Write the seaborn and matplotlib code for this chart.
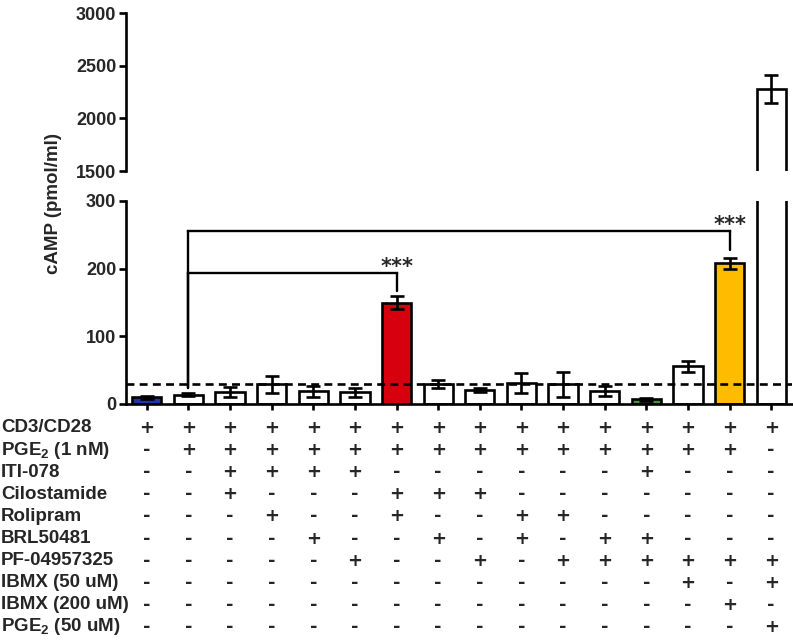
import matplotlib
matplotlib.use("Agg")
import matplotlib.pyplot as plt
import matplotlib.transforms as mtransforms
import seaborn as sns
import pandas as pd
import numpy as np

# ---------------- data ----------------
groups = [f"G{i}" for i in range(1, 17)]
means = [10, 14, 18, 29, 19, 17, 150, 29, 21, 31, 29, 19, 7, 56, 208, 2280]
sems = [2, 2.5, 7, 13, 8, 6, 10, 6, 3, 15, 18, 7.5, 2, 8, 8, 135]
bar_colors = ["#1f35a8", "white", "white", "white", "white", "white", "#d7000f",
              "white", "white", "white", "white", "white", "#3c9a2f", "white",
              "#ffbb00", "white"]
threshold = 30

row_labels = ["CD3/CD28", r"PGE$_\mathbf{2}$ (1 nM)", "ITI-078", "Cilostamide",
              "Rolipram", "BRL50481", "PF-04957325", "IBMX (50 uM)",
              "IBMX (200 uM)", r"PGE$_\mathbf{2}$ (50 uM)"]
table = [
    "++++++++++++++++",
    "-++++++++++++++-",
    "--++++------+---",
    "--+---+++-------",
    "---+--+--++-----",
    "----+--+-+-++---",
    "-----+--+-++++++",
    "-------------+-+",
    "--------------+-",
    "---------------+",
]
# significance brackets: (from group index, to group index, line level, tick end, label)
brackets = [(1, 6, 194, 167, "***"), (1, 14, 256, 227, "***")]
bracket_left_bottom = 24

# ---------------- style ----------------
sns.set_theme(style="white")
plt.rcParams["font.family"] = ["Liberation Sans", "DejaVu Sans"]
plt.rcParams["font.weight"] = "bold"
plt.rcParams["mathtext.fontset"] = "custom"
plt.rcParams["mathtext.rm"] = "Liberation Sans"
plt.rcParams["mathtext.bf"] = "Liberation Sans:bold"

W, H = 793, 644
fig = plt.figure(figsize=(W / 100, H / 100), dpi=100)
left = 126 / W
width = (792 - 126) / W
ax_lo = fig.add_axes([left, 1 - 404 / H, width, 203 / H])
ax_hi = fig.add_axes([left, 1 - 171 / H, width, 158 / H])

df = pd.DataFrame({"group": groups, "cAMP": means})
pal = dict(zip(groups, bar_colors))
fs = 13
lw = 1.9

for ax in (ax_lo, ax_hi):
    sns.barplot(data=df, x="group", y="cAMP", hue="group", palette=pal,
                legend=False, width=0.7, edgecolor="black", linewidth=lw,
                errorbar=None, ax=ax, saturation=1)
    ax.errorbar(np.arange(len(groups)), means, yerr=sems, fmt="none",
                ecolor="black", elinewidth=lw, capsize=4.8,
                capthick=lw, zorder=5)
    ax.set_xlim(-0.5, 15.5)
    ax.set_xlabel("")
    ax.set_ylabel("")
    for s in ("top", "right"):
        ax.spines[s].set_visible(False)
    for s in ("left", "bottom"):
        ax.spines[s].set_linewidth(lw)
        ax.spines[s].set_color("black")
    ax.tick_params(axis="y", direction="out", length=5, width=lw, color="black",
                   labelsize=fs, pad=2, left=True)

ax_lo.set_ylim(0, 300)
ax_lo.set_yticks([0, 100, 200, 300])
ax_lo.set_yticklabels(["0", "100", "200", "300"], fontweight="bold", fontsize=fs)
ax_lo.tick_params(axis="x", direction="out", length=4, width=lw, color="black",
                  bottom=True, labelbottom=False)

ax_hi.set_ylim(1500, 3000)
ax_hi.set_yticks([1500, 2000, 2500, 3000])
ax_hi.set_yticklabels(["1500", "2000", "2500", "3000"], fontweight="bold", fontsize=fs)
ax_hi.spines["bottom"].set_visible(False)
ax_hi.tick_params(axis="x", bottom=False, labelbottom=False)

# dashed threshold
ax_lo.axhline(threshold, color="black", lw=lw, ls=(0, (3.0, 2.0)), zorder=6)

# significance brackets
blw = 1.7
for (i0, i1, level, tick_end, lab) in brackets:
    ax_lo.plot([i0, i1], [level, level], color="black", lw=blw, zorder=7,
               solid_capstyle="projecting")
    ax_lo.plot([i1, i1], [level, tick_end], color="black", lw=blw, zorder=7)
    ax_lo.plot([i0, i0], [level, bracket_left_bottom], color="black", lw=blw, zorder=7)
    ax_lo.text(i1, level - 1, lab, ha="center", va="baseline", fontsize=15,
               fontweight="bold", family="DejaVu Sans", zorder=8)

# y label
fig.text(53 / W, 1 - 203 / H, "cAMP (pmol/ml)", rotation=90, ha="center",
         va="center", fontsize=13.5, fontweight="bold")

# treatment table
trans = mtransforms.blended_transform_factory(ax_lo.transData, fig.transFigure)
for r, (lab, row) in enumerate(zip(row_labels, table)):
    yy = 1 - (428 + 22.1 * r) / H
    fig.text(1 / W, yy, lab, ha="left", va="center", fontsize=13.5, fontweight="bold")
    for c, sym in enumerate(row):
        ax_lo.text(c, yy, sym, transform=trans, ha="center", va="center",
                   fontsize=13, fontweight="bold", family="DejaVu Sans",
                   clip_on=False)

fig.savefig("out.png", dpi=100)
